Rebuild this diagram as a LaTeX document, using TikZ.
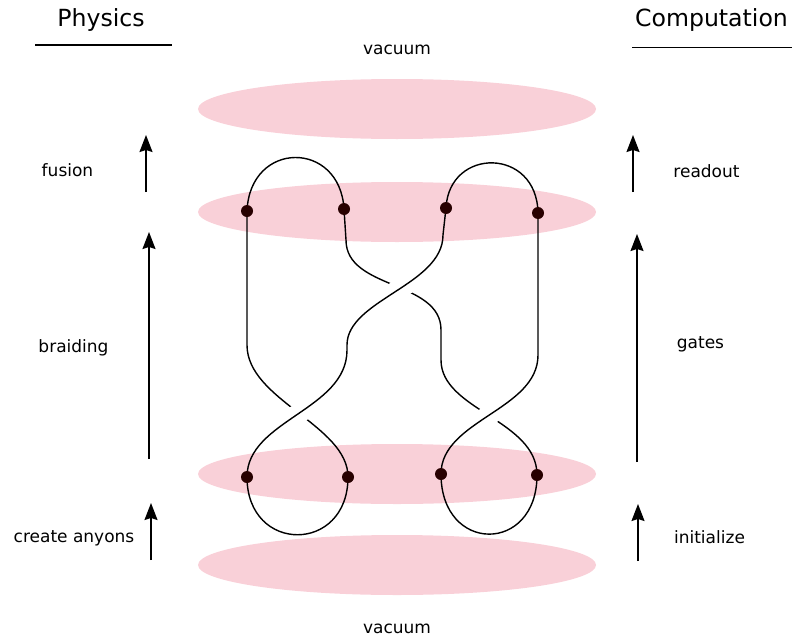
\documentclass[tikz,border=0pt]{standalone}
\usepackage{fontspec}
\setmainfont{DejaVu Sans}
\usetikzlibrary{shapes.geometric,arrows.meta}
\definecolor{pinkfill}{RGB}{249,208,216}
\definecolor{dotcol}{RGB}{40,0,0}
\tikzset{
  pinkell/.style={ellipse,fill=pinkfill,draw=none,minimum width=398pt,minimum height=60pt,inner sep=0pt},
  anyon/.style={circle,fill=dotcol,draw=none,minimum size=12pt,inner sep=0pt},
  strand/.style={line width=1.4pt,black},
  gapper/.style={line width=20pt,white},
  label/.style={font=\fontsize{17}{20}\selectfont,inner sep=0pt,anchor=base},
  heading/.style={font=\fontsize{23.6}{28}\selectfont,inner sep=0pt,anchor=base},
  stagearrow/.style={line width=1.5pt,-{Stealth[length=17pt,width=13pt,inset=2pt]}},
  rule/.style={line width=1.2pt}
}
\begin{document}
\begin{tikzpicture}[x=1pt,y=-1pt]
\useasboundingbox (0,0) rectangle (792,637);
% headings
\node[heading] (phys) at (101,27) {Physics};
\node[heading] (comp) at (711.5,27) {Computation};
\coordinate (pl1) at (35,45); \coordinate (pl2) at (172,45);
\coordinate (cl1) at (632,47.5); \coordinate (cl2) at (792,47.5);
\draw[rule] (pl1) -- (pl2);
\draw[rule] (cl1) -- (cl2);
% vacuum labels
\node[label] (vtop) at (397,54) {vacuum};
\node[label] (vbot) at (397,633) {vacuum};
% ellipses
\node[pinkell] (e1) at (397,109) {};
\node[pinkell] (e2) at (397,212) {};
\node[pinkell] (e3) at (397,474) {};
\node[pinkell] (e4) at (397,565) {};
% anyon positions
\coordinate (t1) at (247,211);
\coordinate (t2) at (344,209);
\coordinate (t3) at (446,208);
\coordinate (t4) at (538,213);
\coordinate (b1) at (247,477);
\coordinate (b2) at (348,477);
\coordinate (b3) at (441,474);
\coordinate (b4) at (537,475);
% top fusion arcs
\draw[strand] (t1) .. controls (250,140) and (340,140) .. (t2);
\draw[strand] (t3) .. controls (449,147) and (537,147) .. (t4);
% bottom creation loops
\draw[strand] (b1) .. controls (247,554) and (348,554) .. (b2);
\draw[strand] (b3) .. controls (441,554) and (537,554) .. (b4);
% under strands
\draw[strand] (t1) -- (247,345) .. controls (247,400) and (348,425) .. (b2);
\draw[strand] (t2) -- (346,240) .. controls (346,290) and (441,280) .. (441,330)
  -- (441,360) .. controls (441,410) and (537,420) .. (b4);
% gaps for over strands
\begin{scope}
\clip (0,255) rectangle (792,438);
\draw[gapper] (b1) .. controls (247,420) and (347,410) .. (347,350) -- (347,345)
  .. controls (347,300) and (443,285) .. (443,235) -- (t3);
\draw[gapper] (b3) .. controls (441,420) and (538,410) .. (538,355) -- (t4);
\end{scope}
% over strands
\draw[strand] (b1) .. controls (247,420) and (347,410) .. (347,350) -- (347,345)
  .. controls (347,300) and (443,285) .. (443,235) -- (t3);
\draw[strand] (b3) .. controls (441,420) and (538,410) .. (538,355) -- (t4);
% anyons
\foreach \p in {t1,t2,t3,t4,b1,b2,b3,b4}{\node[anyon] (a\p) at (\p) {};}
% left stage arrows and labels
\coordinate (fa1) at (146,192); \coordinate (fa2) at (146,135);
\coordinate (ba1) at (149,459); \coordinate (ba2) at (149,232);
\coordinate (ca1) at (151,560); \coordinate (ca2) at (151,503);
\draw[stagearrow] (fa1) -- (fa2);
\draw[stagearrow] (ba1) -- (ba2);
\draw[stagearrow] (ca1) -- (ca2);
\node[label] (fusion) at (67.5,176) {fusion};
\node[label] (braiding) at (73.5,352.7) {braiding};
\node[label] (create) at (74,542.7) {create anyons};
% right stage arrows and labels
\coordinate (ra1) at (633,192); \coordinate (ra2) at (633,135);
\coordinate (ga1) at (637,462); \coordinate (ga2) at (637,234);
\coordinate (ia1) at (638,561); \coordinate (ia2) at (638,504);
\draw[stagearrow] (ra1) -- (ra2);
\draw[stagearrow] (ga1) -- (ga2);
\draw[stagearrow] (ia1) -- (ia2);
\node[label] (readout) at (706.5,177.3) {readout};
\node[label] (gates) at (700.5,348.3) {gates};
\node[label] (init) at (709.5,543.3) {initialize};
\end{tikzpicture}
\end{document}
